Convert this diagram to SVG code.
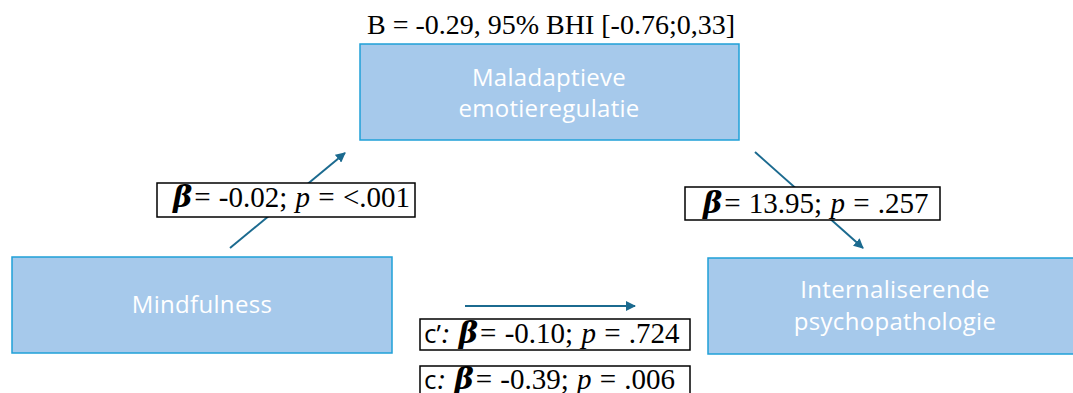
<svg xmlns="http://www.w3.org/2000/svg" width="1073" height="393" viewBox="0 0 1073 393">
<defs>
<style>
.box{fill:#a6c9eb;stroke:#1fa0d8;stroke-width:1.5}
.nt{fill:#ffffff;font-family:"Open Sans","Noto Sans",sans-serif;font-size:24px;text-anchor:middle;letter-spacing:0.3px}
.lb{fill:#ffffff;stroke:#000000;stroke-width:1.5}
.st{fill:#000000;font-family:"Liberation Serif",serif;font-size:28px}
.lt{fill:#000000;font-family:"Liberation Serif",serif;font-size:29px;word-spacing:1px}
.b{font-family:"DejaVu Serif",serif;font-weight:bold;font-style:italic;font-size:29px}
.i{font-style:italic}
.sans{font-family:"Open Sans","Noto Sans",sans-serif;font-size:26px}
.conn{stroke:#1b6a8f;stroke-width:2;fill:none;marker-end:url(#ah)}
</style>
<marker id="ah" viewBox="0 0 10 10" refX="9" refY="5" markerWidth="5" markerHeight="5" orient="auto" markerUnits="strokeWidth">
<path d="M0,0 L10,5 L0,10 z" fill="#1b6a8f"/>
</marker>
</defs>
<rect width="1073" height="393" fill="#ffffff"/>
<text class="st" x="551" y="34" text-anchor="middle">B = -0.29, 95% BHI [-0.76;0,33]</text>
<g id="node-maladaptieve">
<rect class="box" x="360" y="44" width="379" height="96"/>
<text class="nt" x="549" y="86">Maladaptieve</text>
<text class="nt" x="549" y="117">emotieregulatie</text>
</g>
<g id="node-mindfulness">
<rect class="box" x="12" y="257" width="380" height="96"/>
<text class="nt" x="202" y="313">Mindfulness</text>
</g>
<g id="node-internaliserende">
<rect class="box" x="708" y="258" width="380" height="96"/>
<text class="nt" x="895" y="298">Internaliserende</text>
<text class="nt" x="895" y="330">psychopathologie</text>
</g>
<g id="connectors">
<line class="conn" x1="230" y1="248" x2="345" y2="153"/>
<line class="conn" x1="755" y1="152" x2="863" y2="248"/>
<line class="conn" x1="465" y1="306" x2="635" y2="306"/>
</g>
<g id="label-a">
<rect class="lb" x="157" y="183" width="258" height="34"/>
<text class="lt" x="173" y="207"><tspan class="b">β</tspan><tspan dx="2">= -0.02; </tspan><tspan class="i">p</tspan> = &lt;.001</text>
</g>
<g id="label-b">
<rect class="lb" x="685" y="187" width="255" height="33"/>
<text class="lt" x="703" y="213"><tspan class="b">β</tspan><tspan dx="2">= 13.95; </tspan><tspan class="i">p</tspan> = .257</text>
</g>
<g id="label-cprime">
<rect class="lb" x="420" y="319" width="270" height="31"/>
<text class="lt" x="424" y="343"><tspan class="sans">c’</tspan><tspan class="i">: </tspan><tspan class="b">β</tspan><tspan dx="2">= -0.10; </tspan><tspan class="i">p</tspan> = .724</text>
</g>
<g id="label-c">
<rect class="lb" x="420" y="366" width="270" height="40"/>
<text class="lt" x="424" y="389"><tspan class="sans">c</tspan><tspan class="i">: </tspan><tspan class="b">β</tspan><tspan dx="2">= -0.39; </tspan><tspan class="i">p</tspan> = .006</text>
</g>
</svg>
